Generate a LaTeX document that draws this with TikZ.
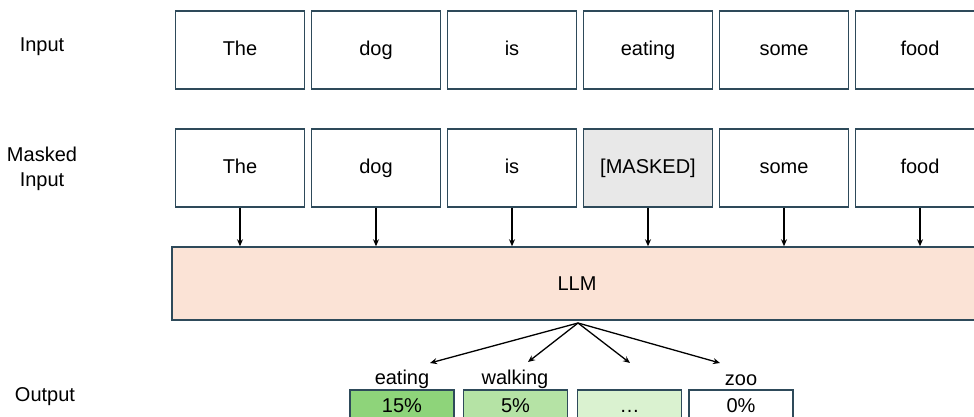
\documentclass[tikz,border=0pt]{standalone}
\usepackage{fontspec}
\setmainfont{Liberation Sans}
\usetikzlibrary{arrows.meta}
\definecolor{edge}{HTML}{2E4A5A}
\definecolor{maskfill}{HTML}{E8E8E8}
\definecolor{llmfill}{HTML}{FBE3D6}
\definecolor{gA}{HTML}{8ED47A}
\definecolor{gB}{HTML}{B5E3A5}
\definecolor{gC}{HTML}{DAF2D0}
\tikzset{
  tok/.style={draw=edge, line width=1.5pt, minimum width=129pt, minimum height=78pt, inner sep=0pt, text height=14.5pt, text depth=4pt, font=\fontsize{20}{24}\selectfont},
  outbox/.style={draw=edge, line width=1.5pt, minimum width=104pt, minimum height=32pt, inner sep=0pt, text height=14.5pt, text depth=2pt, font=\fontsize{20}{24}\selectfont},
  lbl/.style={font=\fontsize{20}{25}\selectfont, align=center, inner sep=0pt},
  arr/.style={draw=black, line width=1.3pt, -{Stealth[length=7pt,width=6pt]}}
}
\begin{document}
\begin{tikzpicture}[x=1pt,y=-1pt]
\useasboundingbox (0,0) rectangle (974,416);
\clip (0,0) rectangle (974,416);
% left labels
\node[lbl] (linput) at (42,47) {Input};
\node[lbl] (lmasked) at (42,169) {Masked\\Input};
\node[lbl] (loutput) at (45,397) {Output};
% input row
\node[tok] (i1) at (240,50) {The};
\node[tok] (i2) at (376,50) {dog};
\node[tok] (i3) at (512,50) {is};
\node[tok] (i4) at (648,50) {eating};
\node[tok] (i5) at (784,50) {some};
\node[tok] (i6) at (920,50) {food};
% masked row
\node[tok] (m1) at (240,168) {The};
\node[tok] (m2) at (376,168) {dog};
\node[tok] (m3) at (512,168) {is};
\node[tok, fill=maskfill] (m4) at (648,168) {[MASKED]};
\node[tok] (m5) at (784,168) {some};
\node[tok] (m6) at (920,168) {food};
% LLM
\node[draw=edge, line width=1.5pt, fill=llmfill, minimum width=810pt, minimum height=73pt, inner sep=0pt, font=\fontsize{20}{24}\selectfont] (llm) at (577,283.5) {LLM};
\foreach \k in {1,...,6}{
  \draw[arr] (m\k.south) -- (m\k.south |- llm.north);
}
% fan
\coordinate (fan) at (578,323);
\coordinate (t1) at (430,363);
\coordinate (t2) at (528,362);
\coordinate (t3) at (630,363);
\coordinate (t4) at (720,363);
\foreach \k in {1,...,4}{
  \draw[arr] (fan) -- (t\k);
}
% output labels
\node[lbl] (w1) at (402,379) {eating};
\node[lbl] (w2) at (515,379) {walking};
\node[lbl] (w4) at (741,380) {zoo};
% output boxes
\node[outbox, fill=gA] (o1) at (402,406) {15\%};
\node[outbox, fill=gB] (o2) at (515.5,406) {5\%};
\node[outbox, fill=gC] (o3) at (629.5,406) {…};
\node[outbox, fill=white] (o4) at (741,406) {0\%};
\end{tikzpicture}
\end{document}
